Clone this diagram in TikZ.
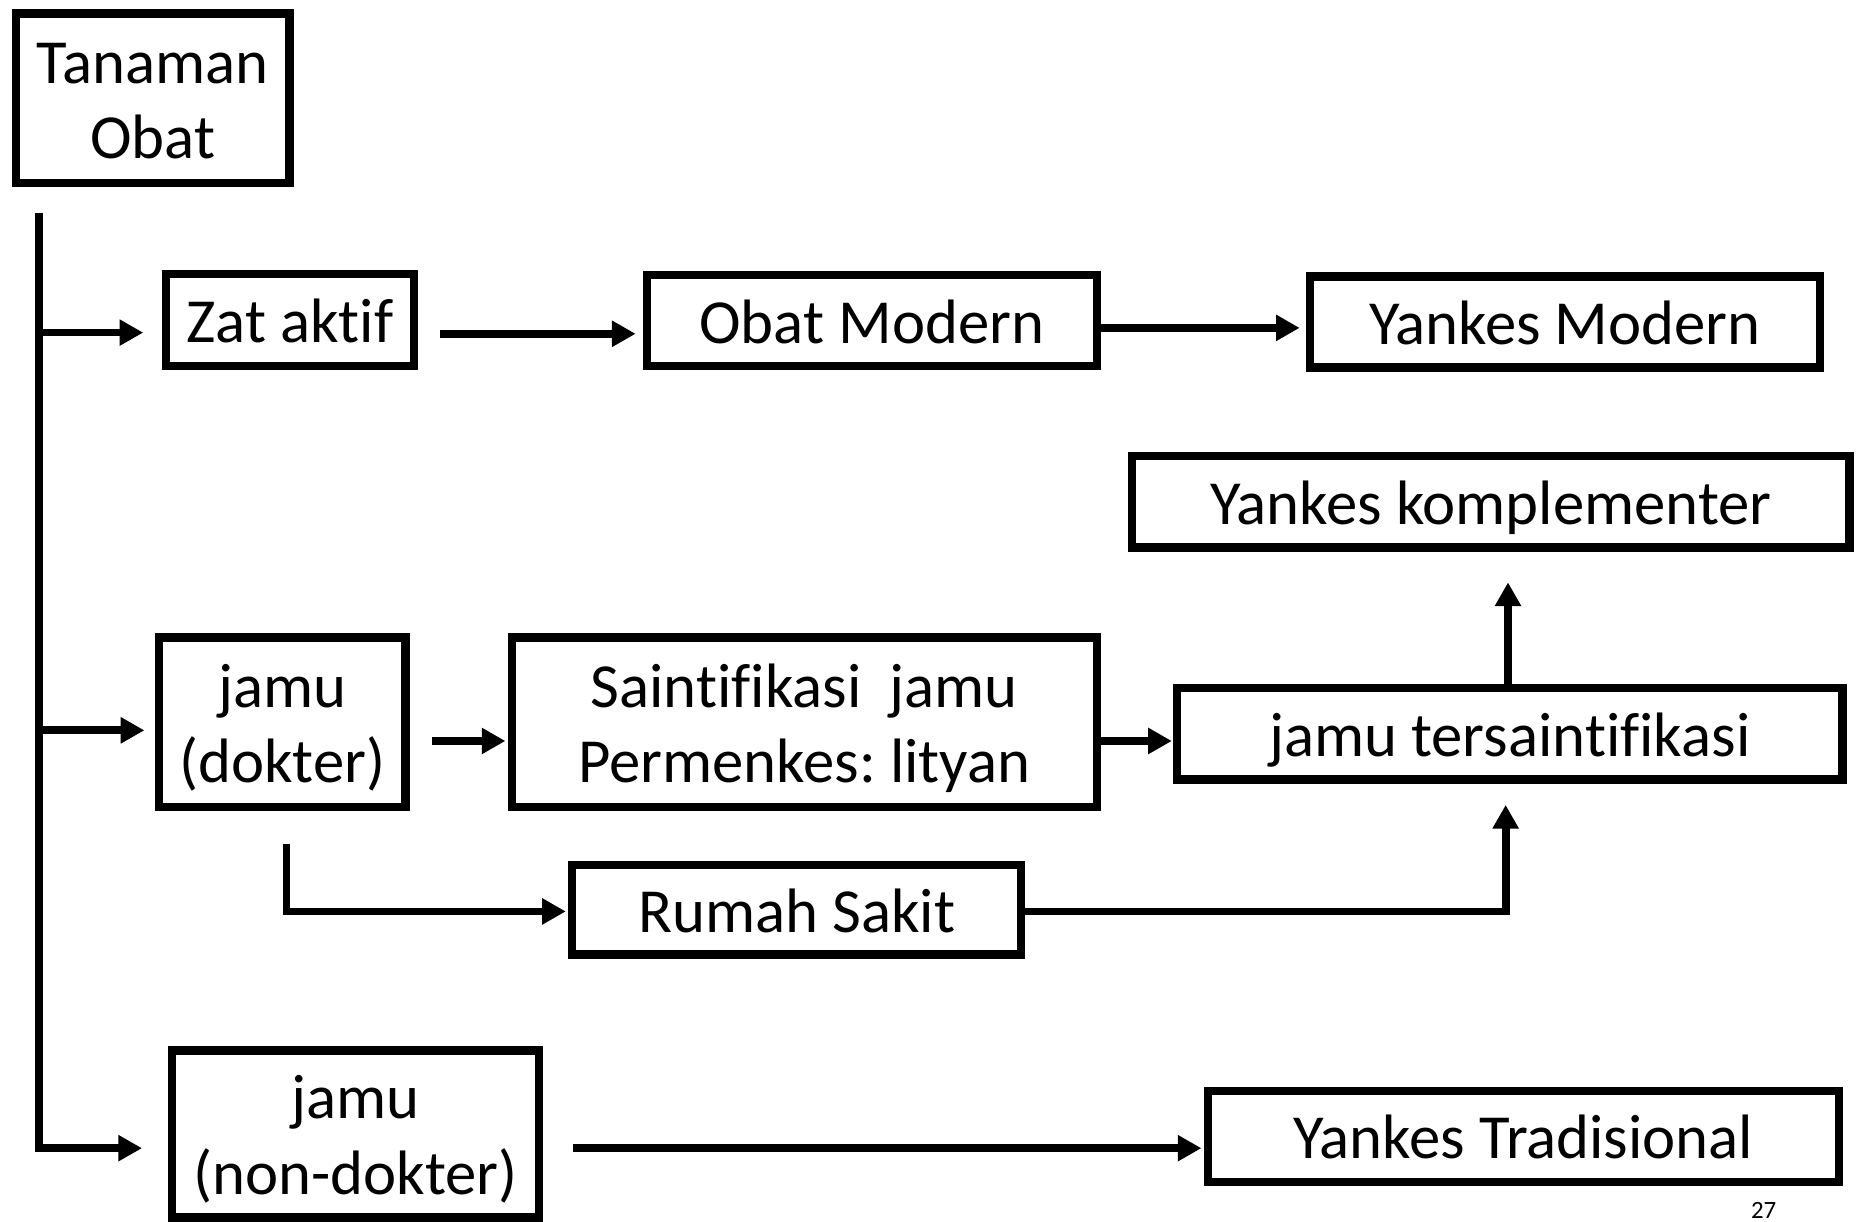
\documentclass[tikz,border=0pt]{standalone}
\usepackage{fontspec}
\setmainfont{Carlito}[Ligatures=NoCommon]
\usetikzlibrary{arrows.meta}

\newcommand{\atas}{\rule{0pt}{47.7pt}}
\newcommand{\bawah}{\rule[-9.5pt]{0pt}{9.5pt}}
\frenchspacing

\begin{document}
\begin{tikzpicture}[x=1pt, y=-1pt, line width=6.5pt,
    kotak/.style={draw, line width=7pt, inner sep=0pt, align=center,
      font=\fontsize{53pt}{63.6pt}\selectfont},
    panah/.style={->, >={Triangle[length=20pt, width=21pt]}}]

  \useasboundingbox (0, 0) rectangle (1568, 1032);

  \node[kotak, minimum width=231pt, minimum height=143pt] (tanaman) at (129, 83) {\atas Tanaman\\Obat\bawah};
  \node[kotak, minimum width=209pt, minimum height=78pt] (zat) at (245, 270.5) {\atas Zat aktif\bawah};
  \node[kotak, minimum width=380pt, minimum height=77pt] (obat) at (736.5, 271) {\atas Obat Modern\bawah};
  \node[kotak, minimum width=431pt, minimum height=77pt] (ymodern) at (1322, 272) {\atas Yankes Modern\bawah};
  \node[kotak, minimum width=606pt, minimum height=77pt] (ykomp) at (1259.5, 424) {\atas Yankes komplementer\bawah};
  \node[kotak, minimum width=208pt, minimum height=143pt] (jdokter) at (238.5, 610) {\atas jamu\\(dokter)\bawah};
  \node[kotak, minimum width=494pt, minimum height=143pt] (saint) at (679.5, 610) {\atas Saintifikasi~ jamu\\Permenkes: lityan\bawah};
  \node[kotak, minimum width=562pt, minimum height=77pt] (jters) at (1275.5, 620) {\atas jamu tersaintifikasi\bawah};
  \node[kotak, minimum width=379pt, minimum height=76pt] (rs) at (673, 768.5) {\atas Rumah Sakit\bawah};
  \node[kotak, minimum width=310pt, minimum height=141pt] (jnondok) at (300.5, 958) {\atas jamu\\(non-dokter)\bawah};
  \node[kotak, minimum width=533pt, minimum height=77pt] (ytrad) at (1287, 960) {\atas Yankes Tradisional\bawah};

  \node[anchor=base, font=\fontsize{21pt}{25pt}\selectfont] (hal) at (1490, 1029) {27};

  \coordinate (batang) at (33, 180);

  \draw[panah, shorten >=22pt] (batang) |- ([yshift=-12pt]jnondok.west);
  \draw[panah, shorten >=16pt] ([yshift=-10.5pt]zat.west -| batang) -- ([yshift=-10.5pt]zat.west);
  \draw[panah, shorten >=9pt] ([yshift=-7pt]jdokter.west -| batang) -- ([yshift=-7pt]jdokter.west);

  \draw[panah, shorten <=19pt, shorten >=6pt] ([yshift=-11.5pt]zat.east) -- ([yshift=-11.5pt]zat.east -| obat.west);
  \draw[panah, shorten >=5pt] ([yshift=-6pt]obat.east) -- ([yshift=-6pt]obat.east -| ymodern.west);
  \draw[panah, shorten <=19pt, shorten >=2pt] ([yshift=-16pt]jdokter.east) -- ([yshift=-16pt]jdokter.east -| saint.west);
  \draw[panah, shorten >=1pt] ([yshift=-16pt]saint.east) -- ([yshift=-16pt]saint.east -| jters.west);
  \draw[panah, shorten >=26pt] ([xshift=-1.5pt]jters.north) -- ([xshift=-1.5pt]jters.north |- ykomp.south);
  \draw[panah, shorten <=28pt, shorten >=2pt] ([xshift=3.5pt]jdokter.south) |- ([yshift=-1.5pt]rs.west);
  \draw[panah, shorten >=18pt] ([yshift=-1.5pt]rs.east) -| ([xshift=-3.5pt]jters.south);
  \draw[panah, shorten <=25pt, shorten >=2pt] ([yshift=-12pt]jnondok.east) -- ([yshift=-12pt]jnondok.east -| ytrad.west);

\end{tikzpicture}
\end{document}
